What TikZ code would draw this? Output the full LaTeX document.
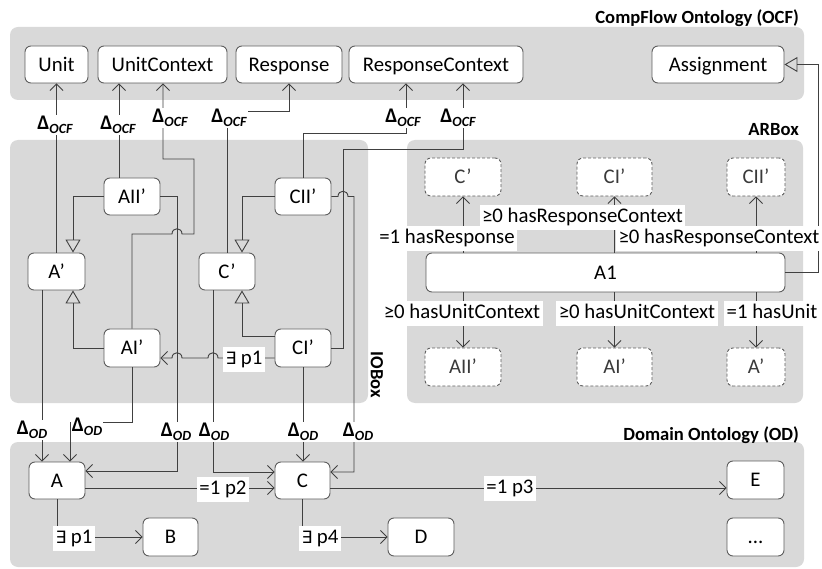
\documentclass[tikz,border=0pt]{standalone}
\usepackage{fontspec}
\setmainfont{Carlito}
\newfontfamily\symfnt{DejaVu Sans}
\usetikzlibrary{arrows.meta,calc}
\definecolor{panelgray}{HTML}{D9D9D9}
\definecolor{boxborder}{HTML}{5E5E5E}
\definecolor{linegray}{HTML}{404040}
\definecolor{textgray}{HTML}{3A3A3A}
\newcommand\dOCF{Δ\raisebox{-3.5pt}{\fontsize{14}{14}\selectfont\bfseries\itshape OCF}}
\newcommand\dOD{Δ\raisebox{-3.5pt}{\fontsize{14}{14}\selectfont\bfseries\itshape OD}}
\newcommand\exq{{\symfnt\fontsize{17}{20}\selectfont ∃}}
\begin{document}
\begin{tikzpicture}[x=1pt,y=-1pt,
  panel/.style={fill=panelgray, draw=none, rounded corners=8pt},
  box/.style={draw=boxborder, fill=white, rounded corners=6pt, line width=0.9pt,
    minimum height=37pt, inner sep=0pt, text height=13.5pt, text depth=0pt,
    font=\fontsize{20.8}{24}\selectfont, text=black},
  dbox/.style={box, dash pattern=on 3pt off 2pt, text=textgray},
  conn/.style={draw=linegray, line width=0.9pt},
  arr/.style={conn, -{Straight Barb[length=6.5pt,width=13pt]}},
  inh/.style={conn, -{Triangle[open,length=13pt,width=15pt]}},
  lbl/.style={fill=white, inner sep=2.5pt, text height=15pt, text depth=5pt,
    font=\fontsize{20.8}{24}\selectfont},
  dl/.style={fill=white, inner sep=1pt, font=\fontsize{20.8}{24}\selectfont\bfseries},
  ttl/.style={font=\fontsize{18.6}{22}\selectfont\bfseries, inner sep=0pt}
]
\useasboundingbox (0,0) rectangle (822,569);
\fill[white] (0,0) rectangle (822,569);
% panels
\fill[panel] (10,27) rectangle (804,100);
\fill[panel] (10,140) rectangle (368,403);
\fill[panel] (407,140) rectangle (803,403);
\fill[panel] (10,442) rectangle (804,567);
\node[ttl, anchor=east] (tocf) at (799,18) {CompFlow Ontology (OCF)};
\node[ttl, anchor=east] (tar) at (799,130) {ARBox};
\node[ttl, rotate=-90] (tio) at (377,375) {IOBox};
\node[ttl, anchor=east] (tod) at (799,435) {Domain Ontology (OD)};

% OCF nodes
\node[box, minimum width=63pt] (unit) at (56.5,64.5) {Unit};
\node[box, minimum width=129pt] (uctx) at (162.5,64.5) {UnitContext};
\node[box, minimum width=106pt] (resp) at (289,64.5) {Response};
\node[box, minimum width=174pt] (rctx) at (436,64.5) {ResponseContext};
\node[box, minimum width=132pt] (assign) at (718,64.5) {Assignment};

% IOBox nodes
\node[box, minimum width=56pt] (aii) at (132,196.5) {AII’};
\node[box, minimum width=57pt] (ap) at (56.5,271.5) {A’};
\node[box, minimum width=56pt] (cp) at (227,271.5) {C’};
\node[box, minimum width=56pt] (cii) at (303,196.5) {CII’};
\node[box, minimum width=56pt, minimum height=38pt] (ai) at (132,348) {AI’};
\node[box, minimum width=56pt, minimum height=38pt] (ci) at (303,348) {CI’};

% ARBox nodes
\node[dbox, minimum width=76pt, minimum height=38pt] (dcp) at (463,177) {C’};
\node[dbox, minimum width=75pt, minimum height=38pt] (dci) at (614.5,177) {CI’};
\node[dbox, minimum width=58pt, minimum height=38pt] (dcii) at (756,177) {CII’};
\node[box, minimum width=359pt, minimum height=39pt] (a1) at (605.5,272.5) {A1};
\node[dbox, minimum width=76pt, minimum height=38pt] (daii) at (463,367) {AII’};
\node[dbox, minimum width=75pt, minimum height=38pt] (dai) at (614.5,367) {AI’};
\node[dbox, minimum width=58pt, minimum height=38pt] (dap) at (756,367) {A’};

% OD nodes
\node[box, minimum width=56pt] (A) at (57,480.5) {A};
\node[box, minimum width=55pt] (C) at (302.5,480.5) {C};
\node[box, minimum width=57pt, minimum height=38pt] (E) at (755.5,480) {E};
\node[box, minimum width=55pt, minimum height=38pt] (B) at (170.5,537) {B};
\node[box, minimum width=66pt, minimum height=38pt] (D) at (421,537) {D};
\node[box, minimum width=57pt, minimum height=38pt] (dots) at (755.5,537) {...};

% IOBox -> OCF
\draw[arr] (ap.north) -- (ap.north |- unit.south);
\draw[arr] ([xshift=-13pt]aii.north) -- ([xshift=-13pt]aii.north |- uctx.south);
\draw[arr] (ai.north) -- (132,234) -- (172,234) .. controls (172,227) and (182,227) .. (182,234)
  -- (194,234) -- (194,159) -- (163,159) -- (163,159 |- uctx.south);
\draw[arr] (cp.north) -- (227,111) -- (289,111) -- (resp.south);
\draw[arr] (cii.north) -- (303,133) -- (406,133) -- (406,133 |- rctx.south);
\draw[arr] (ci.east) -- (343,348) -- (343,149) -- (463,149) -- (463,149 |- rctx.south);

% inheritance in IOBox
\draw[inh] (aii.west) -| ([xshift=16.5pt]ap.north);
\draw[inh] (ai.west) -| ([xshift=16.5pt]ap.south);
\draw[inh] (cii.west) -| ([xshift=15pt]cp.north);
\draw[inh] ([yshift=12pt]ci.west) -| ([xshift=15pt]cp.south);

% CI' -> AI'
\draw[arr] ([yshift=-10pt]ci.west) -- (218,358) .. controls (218,351) and (208,351) .. (208,358)
  -- (182,358) .. controls (182,351) and (172,351) .. (172,358) -- ([yshift=-10pt]ai.east);
\node[lbl] (lp1) at (244,359) {\exq\ p1};

% IOBox -> OD
\draw[arr] (cii.east) -- (338,196.5) .. controls (338,189.5) and (348,189.5) .. (348,196.5)
  -- (354,196.5) -- (354,472) -- ([yshift=8.5pt]C.east);
\draw[arr] (ci.south) -- (ci.south |- C.north);
\draw[arr] ([xshift=-14pt]cp.south) -- (213,472) -- ([yshift=8.5pt]C.west);
\draw[arr] (aii.east) -- (177,196.5) -- (177,471) -- ([yshift=9.5pt]A.east);
\draw[arr] (ai.south) -- (132,422) -- (70,422) -- ([xshift=13pt]A.north);
\draw[arr] ([xshift=-14.5pt]ap.south) -- ([xshift=-15pt]A.north);

% OD internal
\draw[arr] ([yshift=-7.5pt]A.east) -- ([yshift=-7.5pt]C.west);
\draw[arr] (A.south) |- (B.west);
\draw[arr] (C.south) |- (D.west);
\draw[arr] ([yshift=-7.5pt]C.east) -- ([yshift=-8pt]E.west);
\node[lbl] (lp2) at (223,489) {=1 p2};
\node[lbl] (lp1b) at (74,538) {\exq\ p1};
\node[lbl] (lp4) at (320,538) {\exq\ p4};
\node[lbl] (lp3) at (510,488) {=1 p3};

% ARBox
\draw[inh] (a1.east) -- ++(33,0) |- (assign.east);
\draw[arr] (a1.north -| dcp.south) -- (dcp.south);
\draw[arr] (a1.north -| dci.south) -- (dci.south);
\draw[arr] (a1.north -| dcii.south) -- (dcii.south);
\draw[arr] (a1.south -| daii.north) -- (daii.north);
\draw[arr] (a1.south -| dai.north) -- (dai.north);
\draw[arr] (a1.south -| dap.north) -- (dap.north);
\node[lbl] (lr1) at (582.5,217.5) {≥0 hasResponseContext};
\node[lbl] (lr0) at (447,239) {=1 hasResponse};
\node[lbl] (lr2) at (719,239) {≥0 hasResponseContext};
\node[lbl] (lu1) at (462,314) {≥0 hasUnitContext};
\node[lbl] (lu2) at (637,314) {≥0 hasUnitContext};
\node[lbl] (lu3) at (772,314) {=1 hasUnit};

% Delta labels
\node[dl] (o1) at (55,125) {\dOCF};
\node[dl] (o2) at (118,125) {\dOCF};
\node[dl] (o3) at (170,118) {\dOCF};
\node[dl] (o4) at (229,118) {\dOCF};
\node[dl] (o5) at (403,118) {\dOCF};
\node[dl] (o6) at (458,118) {\dOCF};
\node[dl] (d1) at (32,430) {\dOD};
\node[dl] (d2) at (87,427) {\dOD};
\node[dl] (d3) at (176,432) {\dOD};
\node[dl] (d4) at (214,432) {\dOD};
\node[dl] (d5) at (303,432) {\dOD};
\node[dl] (d6) at (358,432) {\dOD};
\end{tikzpicture}
\end{document}
